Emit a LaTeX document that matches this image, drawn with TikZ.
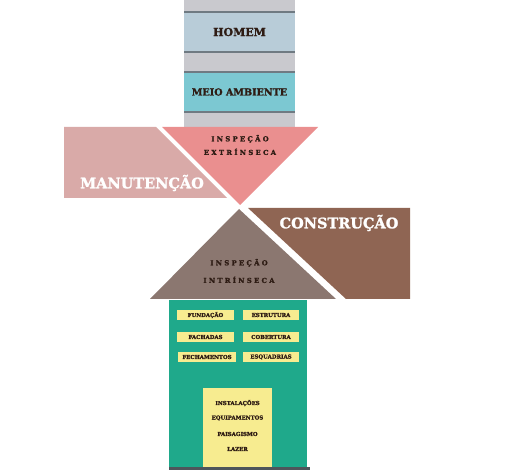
\documentclass[tikz,border=0pt]{standalone}
\usepackage{fontspec}
\setmainfont{DejaVu Serif}[BoldFont={DejaVu Serif Bold}]
\newfontfamily\spacedfont{DejaVu Serif Bold}[LetterSpace=34, FakeBold=1.6]
\newfontfamily\heavyfont{DejaVu Serif Bold}[FakeBold=1.4]

\definecolor{bandgray}{HTML}{C9C9CE}
\definecolor{bandline}{HTML}{6F7A82}
\definecolor{homemblue}{HTML}{B8CCD8}
\definecolor{meiocyan}{HTML}{7CC8D2}
\definecolor{manutpink}{HTML}{D9AAA8}
\definecolor{extrred}{HTML}{EA8F8F}
\definecolor{construbrown}{HTML}{8F6553}
\definecolor{intrgray}{HTML}{8B7770}
\definecolor{casagreen}{HTML}{1FA98B}
\definecolor{tagyellow}{HTML}{F7EC90}
\definecolor{inkdark}{HTML}{2E1C14}

\tikzset{
  title/.style={font=\heavyfont\fontsize{11}{11}\selectfont, text=inkdark},
  big/.style={font=\heavyfont\fontsize{14.5}{14.5}\selectfont, text=white},
  spaced/.style={font=\spacedfont\fontsize{6.8}{6.8}\selectfont, text=inkdark, align=center},
  tag/.style={fill=tagyellow, font=\heavyfont\fontsize{5.4}{5.4}\selectfont, text=inkdark,
    minimum height=10pt, inner sep=0pt},
  item/.style={font=\heavyfont\fontsize{5.4}{5.4}\selectfont, text=inkdark}
}

\begin{document}
\begin{tikzpicture}[x=1pt, y=-1pt]
    \useasboundingbox (0,0) rectangle (514,470);

    % column at the top
    \fill[bandgray] (184,0) rectangle (295,127);
    \fill[homemblue] (184,12) rectangle (295,52);
    \fill[meiocyan] (184,72) rectangle (295,112);
    \foreach \y in {12,52,72,112}
        \draw[bandline, line width=1.2pt] (184,\y) -- (295,\y);
    \node[title] (homem) at (239.5,32) {HOMEM};
    \node[title, font=\heavyfont\fontsize{9.6}{9.6}\selectfont] (meio) at (239.5,92) {MEIO AMBIENTE};

    % manutencao and the upper triangle
    \fill[manutpink] (64,127) -- (156,127) -- (227,198) -- (64,198) -- cycle;
    \fill[extrred] (162,127) -- (318,127) -- (240,205) -- cycle;
    \node[spaced] (extr) at (240,145) {INSPEÇÃO\\[5pt]EXTRÍNSECA};
    \node[big] (manut) at (142,183) {MANUTENÇÃO};

    % construcao and the lower triangle
    \fill[construbrown] (248,208) -- (410,208) -- (410,299) -- (346,299) -- cycle;
    \fill[intrgray] (239,209) -- (336,299) -- (150,299) -- cycle;
    \node[big] (constr) at (339,223) {CONSTRUÇÃO};
    \node[spaced] (intr) at (239,271) {INSPEÇÃO\\[9pt]INTRÍNSECA};

    % the house body
    \fill[casagreen] (169,300) rectangle (307,467);
    \fill[bandline!70!black] (169,467) rectangle (310,470);
    \node[tag, minimum width=57pt] (fund) at (205.5,315) {FUNDAÇÃO};
    \node[tag, minimum width=56pt] (estr) at (271,315) {ESTRUTURA};
    \node[tag, minimum width=57pt] (fach) at (205.5,337) {FACHADAS};
    \node[tag, minimum width=56pt] (cobe) at (271,337) {COBERTURA};
    \node[tag, minimum width=58pt] (fech) at (207,357) {FECHAMENTOS};
    \node[tag, minimum width=56pt] (esqu) at (271,357) {ESQUADRIAS};

    \fill[tagyellow] (203,388) rectangle (272,467);
    \node[item] (inst) at (237.5,403) {INSTALAÇÕES};
    \node[item] (equi) at (237.5,418) {EQUIPAMENTOS};
    \node[item] (pais) at (237.5,434) {PAISAGISMO};
    \node[item] (laze) at (237.5,449) {LAZER};
\end{tikzpicture}
\end{document}
